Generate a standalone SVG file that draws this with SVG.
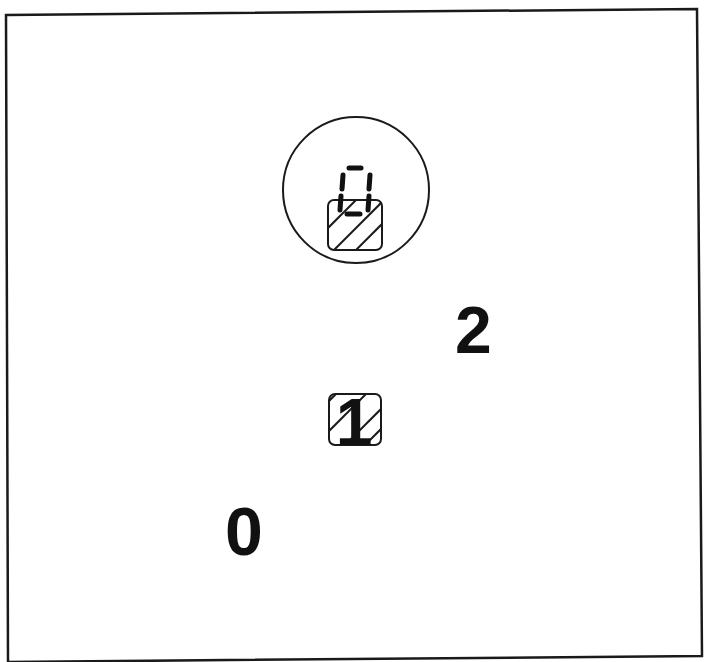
<svg xmlns="http://www.w3.org/2000/svg" width="704" height="662" viewBox="0 0 704 662">
<defs>
<style>
.frame{fill:none;stroke:#1a1a1a;stroke-width:2.5}
.circ{fill:none;stroke:#1a1a1a;stroke-width:2}
.box{fill:#fff;stroke:#1a1a1a;stroke-width:2}
.hatch{stroke:#1a1a1a;stroke-width:2;fill:none}
.seg{stroke:#111;stroke-width:5;stroke-linecap:round;fill:none}
.num{font-family:"Liberation Sans",Arial,sans-serif;font-weight:bold;fill:#111}
</style>
<clipPath id="c1"><rect x="328" y="200" width="54" height="50" rx="6"/></clipPath>
<clipPath id="c2"><rect x="329" y="394" width="52" height="51" rx="6"/></clipPath>
</defs>
<rect width="704" height="662" fill="#fff"/>
<polygon class="frame" points="6,15 697,9 702,656 8,662"/>
<g id="zone">
<circle class="circ" cx="356" cy="190" r="73"/>
</g>
<g id="box-top">
<rect class="box" x="328" y="200" width="54" height="50" rx="6"/>
<g clip-path="url(#c1)" class="hatch">
<line x1="316" y1="240" x2="360" y2="196"/>
<line x1="322" y1="262" x2="384" y2="200"/>
<line x1="344" y1="262" x2="406" y2="200"/>
</g>
</g>
<g id="digit-dashed">
<line class="seg" x1="349" y1="168" x2="361" y2="168"/>
<line class="seg" x1="343" y1="175" x2="342" y2="189"/>
<line class="seg" x1="370" y1="175" x2="369" y2="189"/>
<line class="seg" x1="341" y1="196" x2="340" y2="210"/>
<line class="seg" x1="369" y1="196" x2="368" y2="210"/>
<line class="seg" x1="347" y1="214" x2="360" y2="214"/>
</g>
<g id="box-1">
<rect class="box" x="329" y="394" width="52" height="51" rx="6"/>
<g clip-path="url(#c2)" class="hatch">
<line x1="310" y1="420" x2="350" y2="380"/>
<line x1="315" y1="445" x2="375" y2="385"/>
<line x1="335" y1="455" x2="395" y2="395"/>
<line x1="355" y1="455" x2="415" y2="395"/>
</g>
<text class="num" x="354" y="445" font-size="66" text-anchor="middle">1</text>
</g>
<g id="label-2"><text class="num" x="455" y="353" font-size="66">2</text></g>
<g id="label-0"><text class="num" x="225" y="555" font-size="68">0</text></g>
<g id="connectors"></g>
</svg>
